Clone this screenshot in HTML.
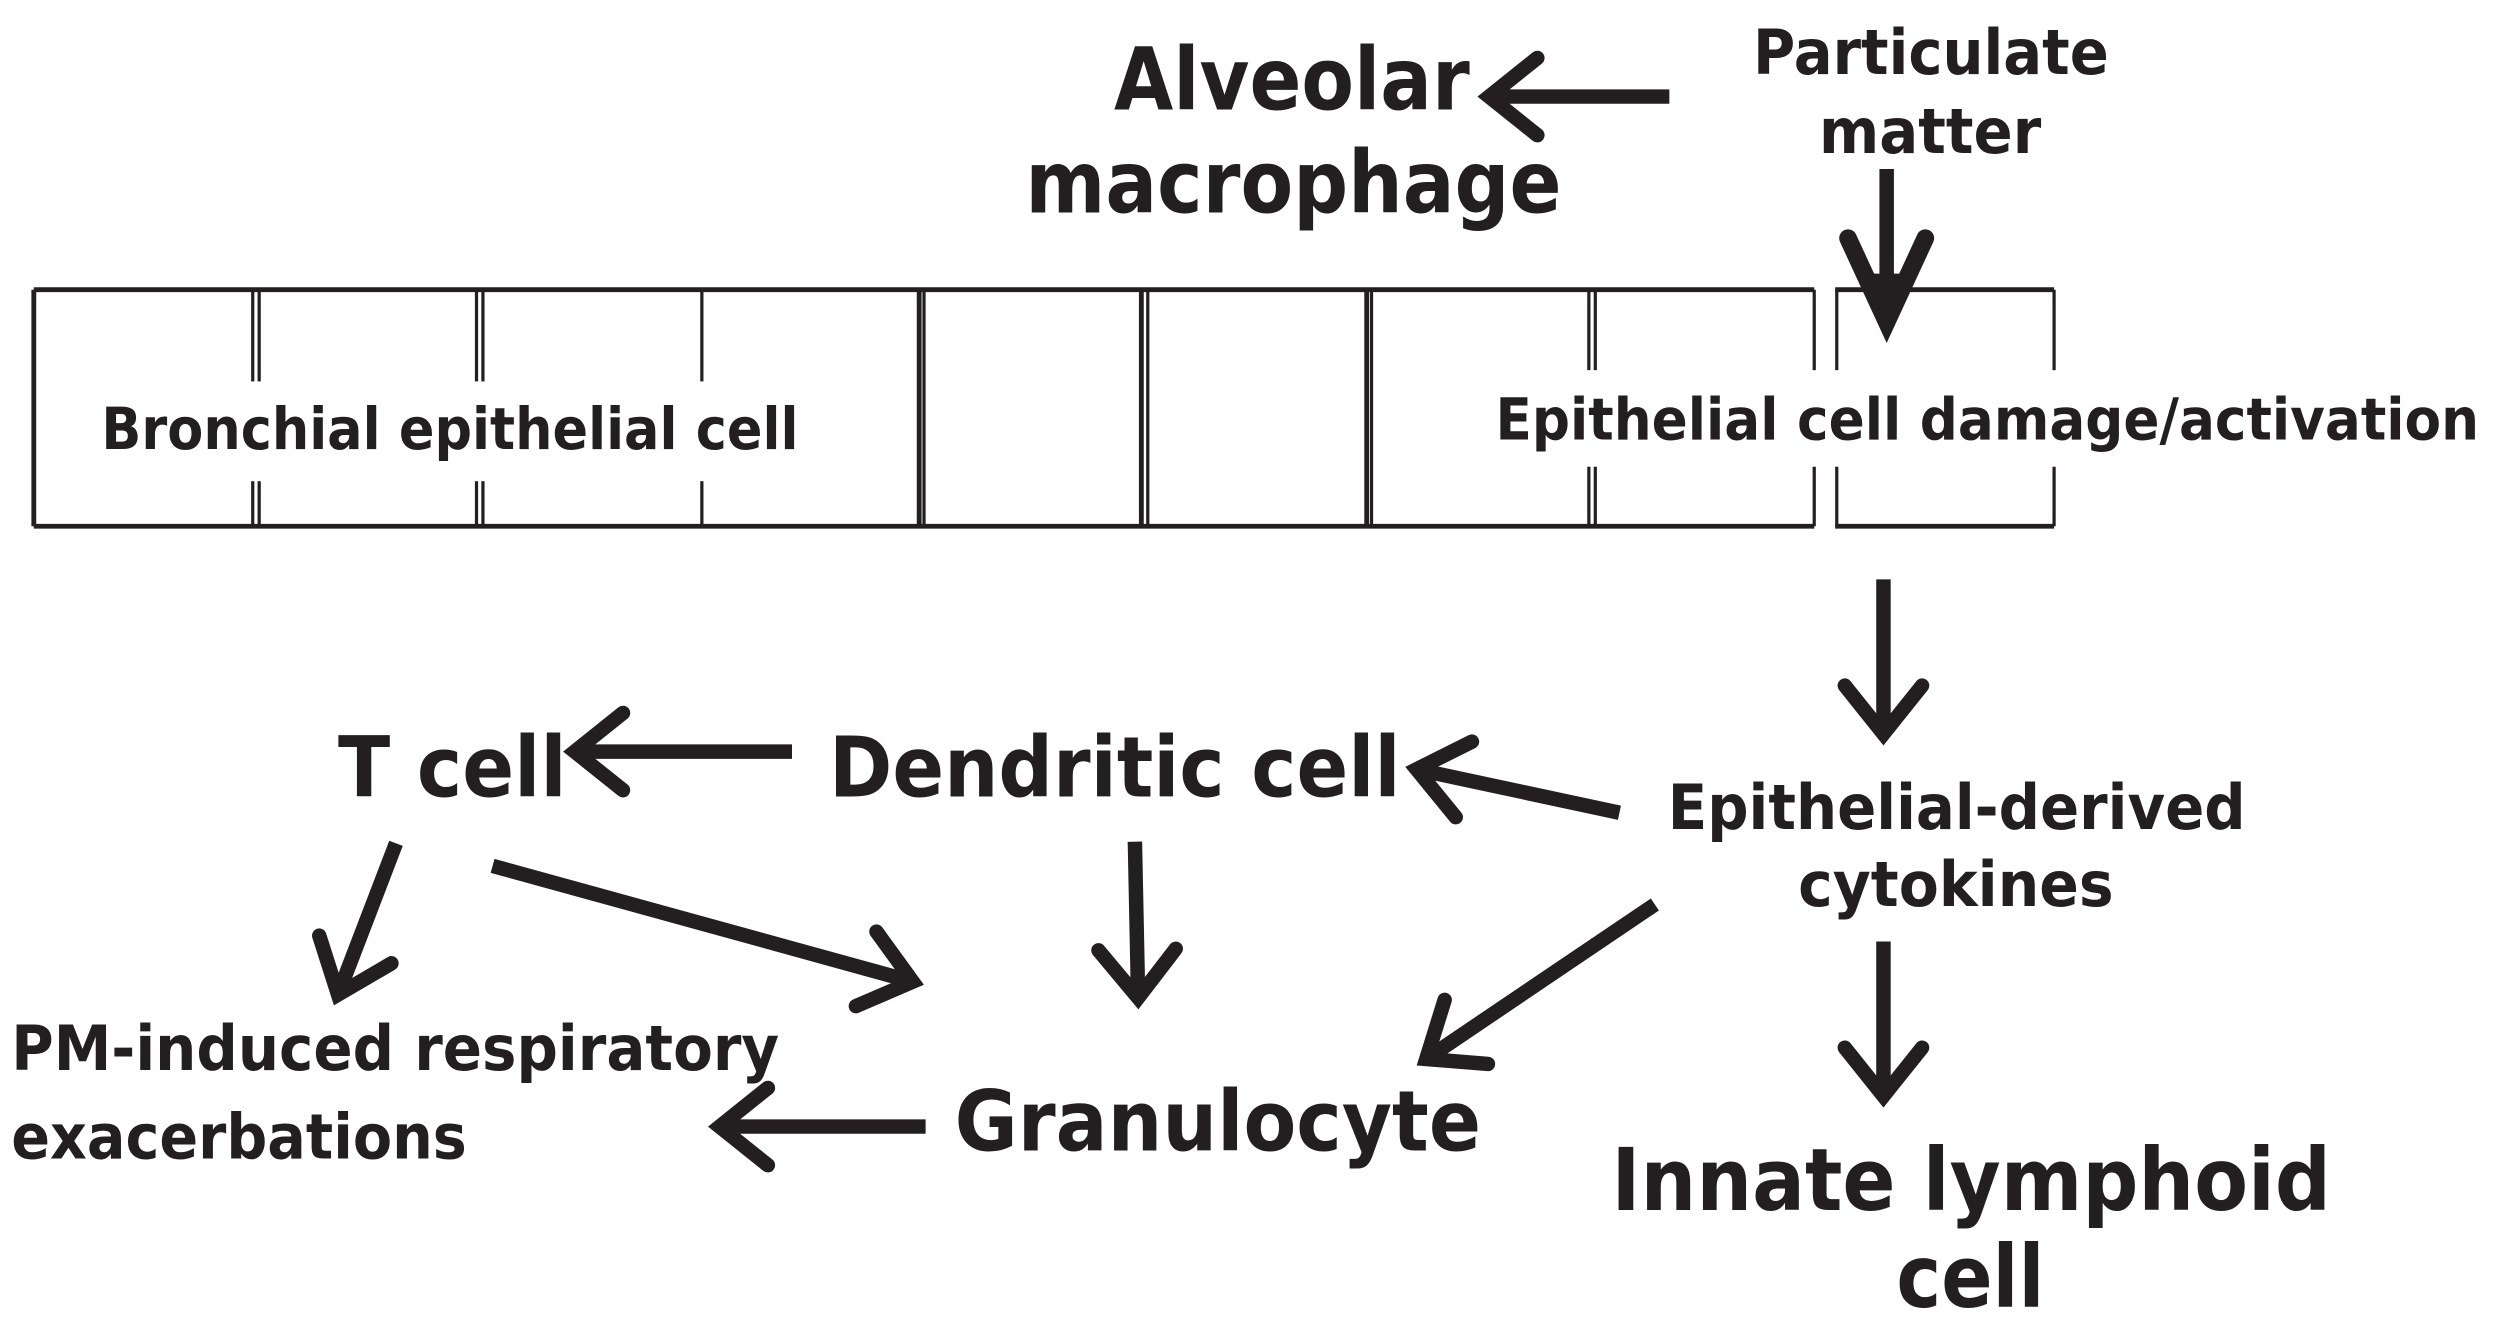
<!DOCTYPE html>
<html><head><meta charset="utf-8"><style>
html,body{margin:0;padding:0;background:#fff;}
svg{display:block;}
text{font-family:"DejaVu Sans","Liberation Sans",sans-serif;font-weight:bold;fill:#231f20;}
</style></head><body>
<svg width="2500" height="1339" viewBox="0 0 1553 832" preserveAspectRatio="none" xmlns="http://www.w3.org/2000/svg">
<defs>
<marker id="h" markerUnits="userSpaceOnUse" markerWidth="80" markerHeight="80" refX="0" refY="0" viewBox="-50 -40 60 80" orient="auto" overflow="visible">
<path d="M-30,-24 L0,0 L-30,24" fill="none" stroke="#231f20" stroke-width="9" stroke-linecap="round" stroke-linejoin="miter"/>
</marker>
</defs>
<g fill="none" stroke="#231f20">
<g stroke-width="3">
<line x1="21" y1="180" x2="1127" y2="180"/>
<line x1="1140" y1="180" x2="1276" y2="180"/>
<line x1="21" y1="327" x2="1127" y2="327"/>
<line x1="1140" y1="327" x2="1276" y2="327"/>
<line x1="21" y1="180" x2="21" y2="327"/>
<line x1="571" y1="180" x2="571" y2="327"/>
<line x1="709" y1="180" x2="709" y2="327"/>
<line x1="849" y1="180" x2="849" y2="327"/>
</g>
<g stroke-width="2">
<line x1="157" y1="180" x2="157" y2="327"/><line x1="161" y1="180" x2="161" y2="327"/>
<line x1="296" y1="180" x2="296" y2="327"/><line x1="300" y1="180" x2="300" y2="327"/>
<line x1="436" y1="180" x2="436" y2="327"/>
<line x1="574" y1="180" x2="574" y2="327"/>
<line x1="713" y1="180" x2="713" y2="327"/>
<line x1="852" y1="180" x2="852" y2="327"/>
<line x1="987" y1="180" x2="987" y2="327"/><line x1="991" y1="180" x2="991" y2="327"/>
<line x1="1127" y1="180" x2="1127" y2="327"/><line x1="1141" y1="180" x2="1141" y2="327"/>
<line x1="1276" y1="180" x2="1276" y2="327"/>
</g>
</g>
<rect x="58" y="237" width="445" height="62" fill="#fff"/>
<rect x="922" y="230" width="625" height="60" fill="#fff"/>

<g stroke="#231f20" stroke-width="9" fill="none" marker-end="url(#h)">
<line x1="1037" y1="60" x2="925" y2="60"/>
<line x1="1006" y1="505" x2="880" y2="478"/>
<line x1="492" y1="467" x2="357" y2="467"/>
<line x1="246" y1="524" x2="210" y2="618"/>
<line x1="306" y1="538" x2="567" y2="610"/>
<line x1="705" y1="523" x2="707" y2="620"/>
<line x1="1028" y1="562" x2="886" y2="658"/>
<line x1="1170" y1="585" x2="1170" y2="681"/>
<line x1="1170" y1="360" x2="1170" y2="456"/>
<line x1="575" y1="700" x2="447" y2="700"/>
</g>
<line x1="1172" y1="105" x2="1172" y2="180" stroke="#231f20" stroke-width="9"/>
<path d="M1148,148 L1172,200 L1196,148" fill="none" stroke="#231f20" stroke-width="11" stroke-linecap="round"/>
<path d="M1160,170 L1172,208 L1184,170 Z" fill="#231f20"/>

<text x="692" y="68" font-size="54" textLength="221" lengthAdjust="spacingAndGlyphs">Alveolar</text>
<text x="637" y="132" font-size="54" textLength="333" lengthAdjust="spacingAndGlyphs">macrophage</text>
<text x="1089" y="46" font-size="39" textLength="221" lengthAdjust="spacingAndGlyphs">Particulate</text>
<text x="1130" y="95" font-size="39" textLength="138" lengthAdjust="spacingAndGlyphs">matter</text>
<text x="63" y="279" font-size="36" textLength="433" lengthAdjust="spacingAndGlyphs">Bronchial epithelial cell</text>
<text x="929" y="273" font-size="36" textLength="611" lengthAdjust="spacingAndGlyphs">Epithelial cell damage/activation</text>
<text x="1036" y="515" font-size="39" textLength="359" lengthAdjust="spacingAndGlyphs">Epithelial-derived</text>
<text x="1117" y="563" font-size="39" textLength="196" lengthAdjust="spacingAndGlyphs">cytokines</text>
<text x="515" y="495" font-size="52" textLength="355" lengthAdjust="spacingAndGlyphs">Dendritic cell</text>
<text x="210" y="495" font-size="52" textLength="142" lengthAdjust="spacingAndGlyphs">T cell</text>
<text x="7" y="665" font-size="39" textLength="477" lengthAdjust="spacingAndGlyphs">PM-induced respiratory</text>
<text x="7" y="720" font-size="39" textLength="283" lengthAdjust="spacingAndGlyphs">exacerbations</text>
<text x="593" y="715" font-size="52" textLength="327" lengthAdjust="spacingAndGlyphs">Granulocyte</text>
<text x="1001" y="752" font-size="54" textLength="447" lengthAdjust="spacingAndGlyphs">Innate lymphoid</text>
<text x="1178" y="812" font-size="54" textLength="92" lengthAdjust="spacingAndGlyphs">cell</text>
</svg>
</body></html>
